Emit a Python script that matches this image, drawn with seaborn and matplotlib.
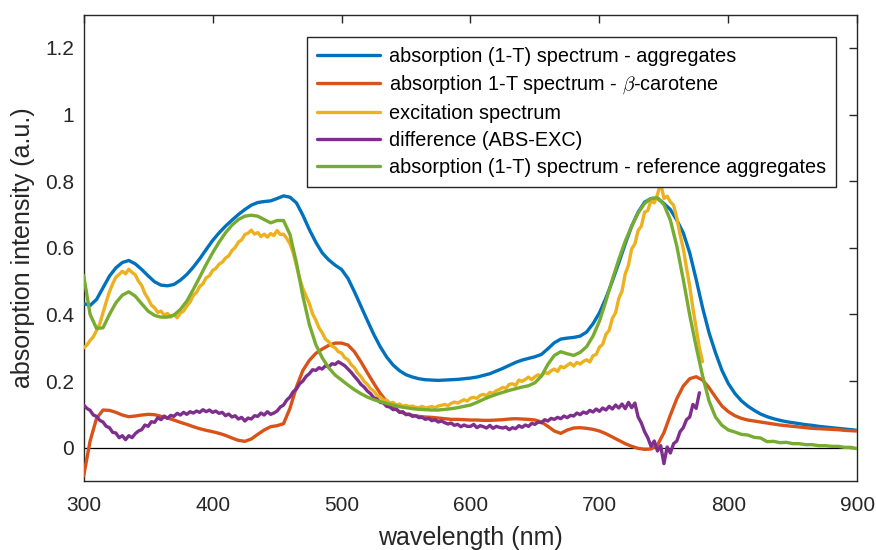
import numpy as np
import pandas as pd
import matplotlib
matplotlib.use("Agg")
import matplotlib.pyplot as plt
import seaborn as sns

# ---- data -------------------------------------------------------------
# smooth spectra sampled every 5 nm from 300 to 900 nm
wl_step = 5.0
abs_aggregates = [
    0.433, 0.427, 0.445, 0.480, 0.515, 0.540, 0.556, 0.562, 0.552, 0.535,
    0.516, 0.498, 0.488, 0.486, 0.490, 0.503, 0.520, 0.542, 0.567, 0.595,
    0.622, 0.645, 0.665, 0.683, 0.700, 0.715, 0.728, 0.736, 0.739, 0.741,
    0.748, 0.756, 0.752, 0.735, 0.698, 0.655, 0.617, 0.585, 0.564, 0.548,
    0.535, 0.508, 0.468, 0.425, 0.382, 0.340, 0.303, 0.272, 0.248, 0.231,
    0.219, 0.212, 0.207, 0.204, 0.203, 0.202, 0.203, 0.204, 0.205, 0.207,
    0.209, 0.212, 0.217, 0.222, 0.230, 0.238, 0.247, 0.256, 0.263, 0.268,
    0.273, 0.280, 0.297, 0.315, 0.326, 0.329, 0.331, 0.335, 0.347, 0.372,
    0.405, 0.449, 0.500, 0.555, 0.612, 0.665, 0.707, 0.737, 0.748, 0.749,
    0.733, 0.715, 0.683, 0.645, 0.585, 0.505, 0.420, 0.345, 0.285, 0.232,
    0.192, 0.163, 0.141, 0.125, 0.112, 0.101, 0.093, 0.087, 0.082, 0.078,
    0.075, 0.072, 0.069, 0.067, 0.064, 0.062, 0.060, 0.058, 0.056, 0.054,
    0.052,
]
abs_carotene = [
    -0.085, 0.020, 0.088, 0.113, 0.112, 0.106, 0.098, 0.093, 0.095, 0.098,
    0.100, 0.099, 0.094, 0.089, 0.083, 0.076, 0.070, 0.063, 0.057, 0.052,
    0.048, 0.043, 0.037, 0.029, 0.022, 0.019, 0.026, 0.040, 0.053, 0.063,
    0.066, 0.072, 0.118, 0.182, 0.232, 0.262, 0.283, 0.296, 0.307, 0.314,
    0.314, 0.308, 0.288, 0.258, 0.225, 0.193, 0.163, 0.138, 0.120, 0.108,
    0.101, 0.097, 0.094, 0.092, 0.091, 0.089, 0.087, 0.085, 0.085, 0.084,
    0.083, 0.083, 0.082, 0.082, 0.083, 0.084, 0.086, 0.087, 0.086, 0.085,
    0.083, 0.077, 0.064, 0.050, 0.043, 0.053, 0.059, 0.060, 0.058, 0.055,
    0.050, 0.042, 0.032, 0.022, 0.012, 0.004, -0.002, -0.005, -0.004, 0.008,
    0.045, 0.098, 0.147, 0.185, 0.207, 0.213, 0.203, 0.180, 0.152, 0.125,
    0.108, 0.096, 0.088, 0.083, 0.080, 0.077, 0.074, 0.071, 0.068, 0.066,
    0.064, 0.062, 0.060, 0.058, 0.057, 0.056, 0.055, 0.054, 0.052, 0.051,
    0.050,
]
abs_reference = [
    0.517, 0.400, 0.358, 0.360, 0.400, 0.435, 0.458, 0.468, 0.455, 0.432,
    0.410, 0.397, 0.392, 0.392, 0.398, 0.415, 0.440, 0.475, 0.512, 0.550,
    0.585, 0.617, 0.645, 0.668, 0.685, 0.695, 0.698, 0.695, 0.685, 0.675,
    0.682, 0.682, 0.640, 0.555, 0.455, 0.370, 0.310, 0.270, 0.240, 0.218,
    0.203, 0.188, 0.174, 0.162, 0.152, 0.144, 0.138, 0.133, 0.128, 0.123,
    0.120, 0.117, 0.115, 0.114, 0.113, 0.113, 0.115, 0.117, 0.120, 0.124,
    0.128, 0.136, 0.145, 0.153, 0.160, 0.166, 0.172, 0.177, 0.182, 0.186,
    0.195, 0.215, 0.250, 0.277, 0.288, 0.282, 0.277, 0.286, 0.303, 0.335,
    0.380, 0.440, 0.505, 0.565, 0.620, 0.665, 0.705, 0.733, 0.748, 0.750,
    0.730, 0.683, 0.605, 0.505, 0.398, 0.303, 0.215, 0.140, 0.092, 0.067,
    0.053, 0.047, 0.040, 0.038, 0.031, 0.029, 0.018, 0.019, 0.015, 0.016,
    0.012, 0.012, 0.009, 0.009, 0.006, 0.006, 0.004, 0.004, 0.001, 0.001,
    -0.003,
]

# noisy spectra sampled every 2.5 nm from 300 nm
noisy_step = 2.5
excitation = [
    0.300, 0.308, 0.322, 0.333, 0.352, 0.372, 0.405, 0.438, 0.468, 0.492,
    0.512, 0.520, 0.530, 0.522, 0.536, 0.526, 0.519, 0.500, 0.487, 0.463,
    0.447, 0.428, 0.420, 0.406, 0.410, 0.398, 0.403, 0.392, 0.399, 0.390,
    0.404, 0.410, 0.425, 0.437, 0.457, 0.466, 0.484, 0.492, 0.510, 0.516,
    0.532, 0.538, 0.551, 0.557, 0.569, 0.576, 0.592, 0.601, 0.617, 0.624,
    0.640, 0.644, 0.653, 0.641, 0.646, 0.634, 0.641, 0.632, 0.643, 0.637,
    0.652, 0.640, 0.641, 0.628, 0.612, 0.585, 0.547, 0.508, 0.478, 0.455,
    0.433, 0.402, 0.383, 0.360, 0.345, 0.326, 0.318, 0.305, 0.300, 0.288,
    0.284, 0.270, 0.264, 0.249, 0.240, 0.224, 0.214, 0.199, 0.190, 0.177,
    0.170, 0.157, 0.152, 0.142, 0.143, 0.134, 0.136, 0.128, 0.131, 0.124,
    0.127, 0.123, 0.125, 0.121, 0.120, 0.124, 0.119, 0.121, 0.124, 0.120,
    0.125, 0.127, 0.130, 0.126, 0.133, 0.137, 0.134, 0.139, 0.144, 0.140,
    0.149, 0.151, 0.148, 0.157, 0.160, 0.156, 0.166, 0.163, 0.171, 0.175,
    0.181, 0.178, 0.190, 0.192, 0.187, 0.203, 0.199, 0.205, 0.212, 0.204,
    0.213, 0.219, 0.215, 0.227, 0.222, 0.231, 0.236, 0.229, 0.244, 0.240,
    0.247, 0.254, 0.245, 0.256, 0.251, 0.259, 0.264, 0.257, 0.276, 0.280,
    0.302, 0.310, 0.340, 0.352, 0.388, 0.405, 0.448, 0.470, 0.522, 0.548,
    0.597, 0.612, 0.652, 0.665, 0.707, 0.712, 0.742, 0.735, 0.760, 0.795,
    0.748, 0.755, 0.738, 0.728, 0.690, 0.640, 0.598, 0.540, 0.485, 0.418,
    0.358, 0.300, 0.258,
]
difference = [
    0.128, 0.118, 0.112, 0.098, 0.094, 0.082, 0.077, 0.064, 0.060, 0.046,
    0.044, 0.030, 0.036, 0.024, 0.036, 0.030, 0.042, 0.050, 0.054, 0.068,
    0.064, 0.078, 0.076, 0.090, 0.084, 0.095, 0.088, 0.097, 0.094, 0.103,
    0.098, 0.106, 0.100, 0.108, 0.104, 0.110, 0.106, 0.114, 0.108, 0.113,
    0.106, 0.110, 0.103, 0.106, 0.096, 0.101, 0.092, 0.096, 0.086, 0.091,
    0.080, 0.089, 0.086, 0.096, 0.094, 0.104, 0.098, 0.108, 0.100, 0.104,
    0.110, 0.122, 0.128, 0.143, 0.152, 0.168, 0.176, 0.192, 0.200, 0.214,
    0.222, 0.234, 0.232, 0.240, 0.236, 0.246, 0.242, 0.252, 0.250, 0.258,
    0.252, 0.246, 0.236, 0.226, 0.214, 0.203, 0.190, 0.182, 0.170, 0.162,
    0.150, 0.146, 0.136, 0.134, 0.124, 0.122, 0.114, 0.116, 0.106, 0.108,
    0.099, 0.101, 0.094, 0.096, 0.090, 0.091, 0.085, 0.088, 0.081, 0.084,
    0.077, 0.080, 0.075, 0.071, 0.074, 0.067, 0.070, 0.063, 0.068, 0.064,
    0.064, 0.070, 0.060, 0.066, 0.063, 0.059, 0.067, 0.058, 0.064, 0.061,
    0.059, 0.062, 0.054, 0.060, 0.057, 0.066, 0.061, 0.068, 0.064, 0.073,
    0.070, 0.077, 0.075, 0.084, 0.080, 0.088, 0.085, 0.091, 0.087, 0.095,
    0.090, 0.097, 0.095, 0.104, 0.099, 0.107, 0.103, 0.112, 0.107, 0.116,
    0.109, 0.119, 0.113, 0.124, 0.116, 0.128, 0.119, 0.131, 0.117, 0.136,
    0.120, 0.134, 0.092, 0.074, 0.048, 0.030, 0.004, 0.020, -0.010, 0.006,
    -0.048, 0.002, -0.016, 0.012, 0.020, 0.048, 0.060, 0.084, 0.092, 0.130,
    0.118, 0.165,
]

series_labels = [
    "absorption (1-T) spectrum - aggregates",
    r"absorption 1-T spectrum - $\beta$-carotene",
    "excitation spectrum",
    "difference (ABS-EXC)",
    "absorption (1-T) spectrum - reference aggregates",
]
series_colors = ["#0072BD", "#D95319", "#EDB120", "#7E2F8E", "#77AC30"]

x_ticks = [300, 400, 500, 600, 700, 800, 900]
y_ticks = [0, 0.2, 0.4, 0.6, 0.8, 1.0, 1.2]
y_tick_labels = ["0", "0.2", "0.4", "0.6", "0.8", "1", "1.2"]

# ---- style ------------------------------------------------------------
sns.set_theme(style="white")
plt.rcParams["font.family"] = ["Liberation Sans", "DejaVu Sans"]
plt.rcParams["mathtext.fontset"] = "cm"
ink = "#262626"

fig = plt.figure(figsize=(8.76, 5.5), dpi=100)
ax = fig.add_axes([0.0955, 0.1255, 0.8832, 0.8478])

ax.axhline(0, color="black", lw=0.9, zorder=1)


def spectrum_frame(values, step):
    wl = 300.0 + step * np.arange(len(values))
    return pd.DataFrame({"wavelength": wl, "value": values})


frames = [
    spectrum_frame(abs_aggregates, wl_step),
    spectrum_frame(abs_carotene, wl_step),
    spectrum_frame(excitation, noisy_step),
    spectrum_frame(difference, noisy_step),
    spectrum_frame(abs_reference, wl_step),
]

for i, (df, lab, col) in enumerate(zip(frames, series_labels, series_colors)):
    sns.lineplot(data=df, x="wavelength", y="value", ax=ax, color=col,
                 linewidth=2.4, label=lab, sort=False, estimator=None,
                 zorder=3 + i)

ax.set_xlim(300, 900)
ax.set_ylim(-0.1, 1.3)
ax.set_xticks(x_ticks)
ax.set_yticks(y_ticks)
ax.set_yticklabels(y_tick_labels)

for side in ["left", "right", "top", "bottom"]:
    ax.spines[side].set_visible(True)
    ax.spines[side].set_color(ink)
    ax.spines[side].set_linewidth(1.0)

ax.tick_params(axis="both", which="both", direction="in", length=6, width=1.0,
               top=True, right=True, color=ink, labelcolor=ink, labelsize=15)
ax.tick_params(axis="x", pad=11)
ax.tick_params(axis="y", pad=7)

ax.set_xlabel("wavelength (nm)", fontsize=18, color=ink, labelpad=8)
ax.set_ylabel("absorption intensity (a.u.)", fontsize=18, color=ink, labelpad=7)

leg = ax.legend(loc="upper right", bbox_to_anchor=(0.9725, 0.9528),
                borderaxespad=0, fontsize=14.3, frameon=True, fancybox=False,
                shadow=False, handlelength=3.2, handletextpad=0.45,
                labelspacing=0.40, borderpad=0.5, framealpha=1)
leg.get_frame().set_edgecolor(ink)
leg.get_frame().set_linewidth(1.0)
for t in leg.get_texts():
    t.set_color("black")

fig.savefig("out.png", dpi=100)
